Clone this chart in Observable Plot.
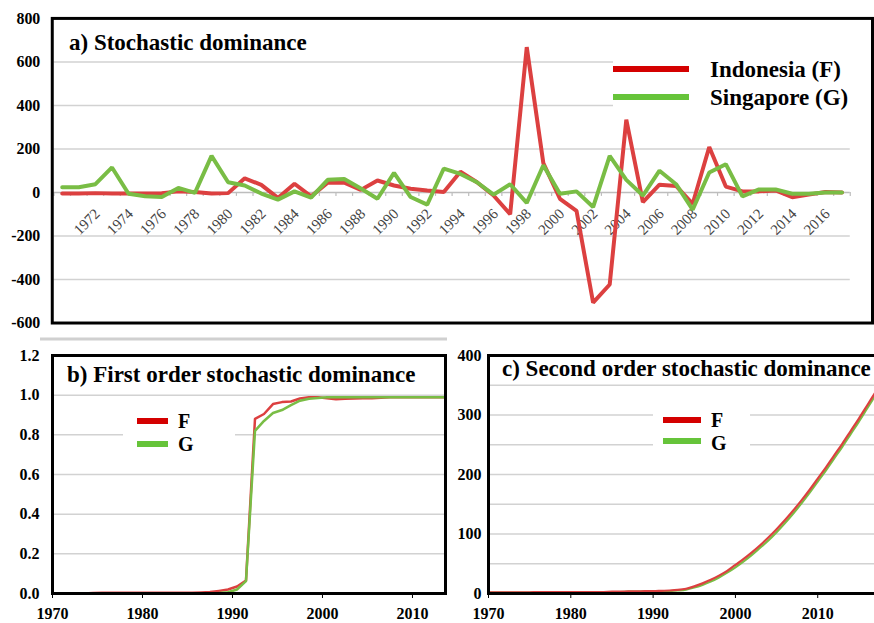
<!DOCTYPE html>
<html><head><meta charset="utf-8">
<script src="https://cdn.jsdelivr.net/npm/d3@7"></script>
<script src="https://cdn.jsdelivr.net/npm/@observablehq/plot@0.6"></script>
<style>
html,body{margin:0;padding:0;background:#fff;overflow:hidden;}
#wrap{position:relative;width:874px;height:623px;overflow:hidden;background:#fff;}
#wrap svg{position:absolute;}
</style></head><body><div id="wrap"></div>
<script>
// ---------- Panel a: Stochastic dominance ----------
const years = [1970,1971,1972,1973,1974,1975,1976,1977,1978,1979,1980,1981,1982,1983,1984,1985,1986,1987,1988,1989,1990,1991,1992,1993,1994,1995,1996,1997,1998,1999,2000,2001,2002,2003,2004,2005,2006,2007,2008,2009,2010,2011,2012,2013,2014,2015,2016,2017];
const indonesia = [-5,-5,-3,-5,-5,-5,-3,5,2,-5,-3,65,35,-25,40,-18,45,45,12,55,32,17,9,2,95,47,-14,-100,668,135,-29,-85,-506,-423,335,-44,36,30,-52,209,27,5,5,9,-22,-10,2,0];
const singapore = [24,24,38,115,-6,-17,-21,21,-2,168,47,32,-5,-33,5,-24,58,62,18,-29,90,-21,-56,110,85,47,-10,38,-48,125,-6,5,-67,168,58,-14,100,38,-79,92,130,-18,14,14,-6,-6,0,0];
const aTickLabels = [1972,1974,1976,1978,1980,1982,1984,1986,1988,1990,1992,1994,1996,1998,2000,2002,2004,2006,2008,2010,2012,2014,2016];
const aYTicks = [800,600,400,200,0,-200,-400,-600];
const aGrid = [600,400,200,-200,-400];

// ---------- Panel b: First order stochastic dominance ----------
const bYears = [1970,1971,1972,1973,1974,1975,1976,1977,1978,1979,1980,1981,1982,1983,1984,1985,1986,1987,1988,1989,1990,1991,1992,1993,1994,1995,1996,1997,1998,1999,2000,2001,2002,2003,2004,2005,2006,2007,2008,2009,2010,2011,2012,2013,2014];
const bF = [0,0,0,0,0.003,0.004,0.004,0.004,0.004,0.004,0.004,0.004,0.004,0.004,0.004,0.004,0.005,0.007,0.013,0.02,0.035,0.065,0.88,0.905,0.955,0.965,0.968,0.983,0.99,0.99,0.985,0.98,0.982,0.983,0.984,0.985,0.987,0.99,0.99,0.99,0.99,0.99,0.99,0.99,0.99];
const bG = [0,0,0,0,0,0,0,0,0,0,0,0,0,0,0,0,0,0,0.002,0.006,0.02,0.062,0.82,0.87,0.91,0.925,0.95,0.972,0.982,0.986,0.99,0.99,0.99,0.99,0.99,0.99,0.99,0.99,0.99,0.99,0.99,0.99,0.99,0.99,0.99];
const bXTicks = [1970,1980,1990,2000,2010];
const bYTicks = [0,0.2,0.4,0.6,0.8,1.0,1.2];
const bGrid = [0.2,0.4,0.6,0.8,1.0];

// ---------- Panel c: Second order stochastic dominance ----------
const cYears = [1970,1971,1972,1973,1974,1975,1976,1977,1978,1979,1980,1981,1982,1983,1984,1985,1986,1987,1988,1989,1990,1991,1992,1993,1994,1995,1996,1997,1998,1999,2000,2001,2002,2003,2004,2005,2006,2007,2008,2009,2010,2011,2012,2013,2014,2015,2016,2017];
const cF = [2,2,2,2,2,2,2.5,2.5,2.5,2.5,2.5,2.5,2.5,2.5,2.5,3,3,3.5,3.5,4,4,4.5,5,6,8,12,17,23,30,38,48,58,69,81,94,108,123,139,156,174,193,212,232,252,273,294,316,338];
const cG = [1.5,1.5,1.5,1.5,1.5,1.5,2,2,2,2,2,2,2,2,2,2.5,2.5,3,3,3.5,3.5,3.5,4,5,6.5,10,14.5,20,27,35,44,54,65,77,89,103,118,134,151,169,188,207,227,247,268,289,311,333];
const cXTicks = [1970,1980,1990,2000,2010];
const cYTicks = [0,100,200,300,400];
const cGrid = [50,100,150,200,250,300,350];

const RED = "#dc4040", GREEN = "#79bd45";
const FONT = "'Liberation Serif','Times New Roman',serif";
const GRID = "#d2d2d2";
const baseStyle = {background: "none", overflow: "visible", fontFamily: FONT, fontSize: "16px", fontWeight: "bold", color: "#000"};
const wrap = document.getElementById("wrap");

function place(svg, left, top) {
  svg.style.left = left + "px";
  svg.style.top = top + "px";
  wrap.appendChild(svg);
}

// Panel a
const aRows = years.map((y, i) => ({year: y, F: indonesia[i], G: singapore[i]}));
const bounds = years.map(y => y - 0.5).concat([years[years.length - 1] + 0.5]);
const gx1 = years[0] - 0.5, gx2 = years[years.length - 1] + 0.5;
const plotA = Plot.plot({
  width: 878, height: 345,
  marginLeft: 52, marginRight: 2, marginTop: 18, marginBottom: 21,
  style: baseStyle,
  x: {domain: [1969.4, 2018.84], axis: null, label: null},
  y: {domain: [-600, 800], ticks: aYTicks, tickSize: 0, tickPadding: 12, tickFormat: d => String(d), label: null},
  marks: [
    Plot.ruleY(aGrid, {x1: gx1, x2: gx2, stroke: GRID, strokeWidth: 1.5}),
    Plot.ruleY([0], {x1: gx1, x2: gx2, stroke: "#bdbdbd", strokeWidth: 1.5}),
    Plot.ruleX(bounds, {x: d => d, y1: 0, y2: -18, stroke: "#bdbdbd", strokeWidth: 1.2}),
    Plot.text(aTickLabels, {x: d => d, y: 0, text: d => String(d), rotate: -45, textAnchor: "end", lineAnchor: "middle", dx: 2, dy: 19, fontSize: 15, fontWeight: "normal", fill: "#444"}),
    Plot.line(aRows, {x: "year", y: "F", stroke: RED, strokeWidth: 4, strokeLinejoin: "miter"}),
    Plot.line(aRows, {x: "year", y: "G", stroke: GREEN, strokeWidth: 4, strokeLinejoin: "miter"}),
    Plot.frame({stroke: "#000", strokeWidth: 3})
  ]
});
place(plotA, 0, 0);

// Panel b
const bRows = bYears.map((y, i) => ({year: y + 0.5, F: bF[i], G: bG[i]}));
const plotB = Plot.plot({
  width: 460, height: 283,
  marginLeft: 52, marginRight: 15, marginTop: 15, marginBottom: 30,
  style: baseStyle,
  x: {domain: [1970, 2013.67], ticks: bXTicks, tickSize: 5, tickPadding: 9, tickFormat: d => String(d), label: null},
  y: {domain: [0, 1.2], ticks: bYTicks, tickSize: 0, tickPadding: 13, tickFormat: d => d.toFixed(1), label: null},
  marks: [
    Plot.ruleY(bGrid, {stroke: GRID, strokeWidth: 1.5}),
    Plot.line(bRows, {x: "year", y: "F", stroke: RED, strokeWidth: 2.5, clip: true}),
    Plot.line(bRows, {x: "year", y: "G", stroke: GREEN, strokeWidth: 2.5, clip: true}),
    Plot.frame({stroke: "#000", strokeWidth: 3})
  ]
});
place(plotB, 0, 340);

// Panel c
const cRows = cYears.map((y, i) => ({year: y, F: cF[i], G: cG[i]}));
const plotC = Plot.plot({
  width: 436, height: 283,
  marginLeft: 48, marginRight: 0, marginTop: 15, marginBottom: 30,
  style: baseStyle,
  x: {domain: [1970, 2017.14], ticks: cXTicks, tickSize: 5, tickPadding: 9, tickFormat: d => String(d), label: null},
  y: {domain: [0, 400], ticks: cYTicks, tickSize: 0, tickPadding: 7, tickFormat: d => String(d), label: null},
  marks: [
    Plot.ruleY(cGrid, {stroke: GRID, strokeWidth: 1.5}),
    Plot.line(cRows, {x: "year", y: "G", stroke: GREEN, strokeWidth: 2.2, clip: true, curve: "monotone-x"}),
    Plot.line(cRows, {x: "year", y: "F", stroke: RED, strokeWidth: 2.2, clip: true, curve: "monotone-x"}),
    Plot.frame({stroke: "#000", strokeWidth: 3})
  ]
});
place(plotC, 440, 340);

// ---------- Overlay: titles and legends ----------
const ov = d3.select(wrap).append("svg")
  .attr("width", 874).attr("height", 623)
  .style("left", "0px").style("top", "0px")
  .style("font-family", FONT).style("font-weight", "bold");

ov.append("rect").attr("x", 40).attr("y", 337.5).attr("width", 407).attr("height", 3).attr("fill", "#d0d0d0");

function title(txt, x, y) {
  ov.append("text").attr("x", x).attr("y", y).attr("font-size", 23).text(txt);
}
function legend(box, items) {
  ov.append("rect").attr("x", box[0]).attr("y", box[1]).attr("width", box[2]).attr("height", box[3]).attr("fill", "#fff");
  for (const it of items) {
    ov.append("line").attr("x1", it.x1).attr("x2", it.x2).attr("y1", it.y).attr("y2", it.y)
      .attr("stroke", it.color).attr("stroke-width", 6);
    ov.append("text").attr("x", it.tx).attr("y", it.ty).attr("font-size", it.fs).text(it.label);
  }
}
title("a) Stochastic dominance", 69, 50);
legend([613, 40, 244, 78], [
  {x1: 613, x2: 689, y: 69, color: "#d40000", tx: 710, ty: 77, fs: 23, label: "Indonesia (F)"},
  {x1: 613, x2: 689, y: 97, color: "#66c43a", tx: 710, ty: 105, fs: 23, label: "Singapore (G)"}
]);
title("b) First order stochastic dominance", 67, 382);
legend([123, 405, 112, 56], [
  {x1: 137, x2: 168, y: 421, color: "#d40000", tx: 178, ty: 428, fs: 20, label: "F"},
  {x1: 137, x2: 168, y: 444, color: "#66c43a", tx: 178, ty: 451, fs: 20, label: "G"}
]);
title("c) Second order stochastic dominance", 502, 376);
legend([653, 403, 97, 56], [
  {x1: 663, x2: 701, y: 420, color: "#d40000", tx: 711, ty: 427, fs: 20, label: "F"},
  {x1: 663, x2: 701, y: 441, color: "#66c43a", tx: 711, ty: 450, fs: 20, label: "G"}
]);
</script></body></html>
